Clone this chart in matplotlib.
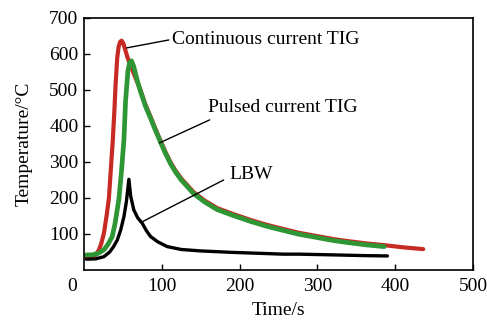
import matplotlib
matplotlib.use("Agg")
import matplotlib.pyplot as plt

plt.rcParams['font.family'] = ['Liberation Serif', 'DejaVu Serif']

# Continuous current TIG
t_c = [3, 10, 15, 19, 22, 25.6, 29, 32, 34.5, 37, 39, 40.6, 42.7, 44.5, 46.5, 48.3, 50.5, 53, 56, 60, 65,
       72.6, 79, 85.5, 92, 98, 104, 111, 118, 125, 141, 155, 171, 191, 214, 234, 256, 277, 300, 320, 340, 362,
       386, 410, 436]
T_c = [37, 37, 42, 55, 72, 102, 150, 199, 280, 360, 440, 515, 589, 620, 634, 637, 630, 612, 590, 568, 540,
       500, 459, 426, 391, 361, 331, 300, 275, 254, 216, 193, 172, 156, 139, 126, 114, 103, 94, 86, 80, 74,
       69, 63, 58]

# Pulsed current TIG
t_p = [3, 10, 18, 25.6, 31, 36.3, 40, 45, 48, 51.3, 53.4, 56.4, 58.5, 61, 64, 68, 72.6, 79, 85.5, 92, 98,
       104, 111, 118, 125, 141, 155, 171, 191, 214, 234, 256, 277, 300, 320, 340, 362, 386]
T_p = [42, 42, 46, 56, 72, 93, 130, 199, 270, 361, 468, 552, 575, 581, 565, 530, 496, 455, 422, 387, 357,
       327, 296, 271, 250, 212, 189, 168, 152, 135, 122, 110, 99, 90, 82, 76, 70, 65]

# LBW
t_l = [3, 15, 25.6, 33, 38, 42.7, 47, 51.3, 54.5, 57.7, 60, 64, 69, 74.8, 80, 85.5, 95, 107, 125, 150,
       190, 230, 256, 277, 320, 360, 390]
T_l = [30, 31, 37, 50, 65, 83, 110, 148, 190, 252, 205, 167, 145, 130, 110, 93, 78, 65, 57, 53,
       49, 46, 44, 44, 42, 40, 39]

xticks = [100, 200, 300, 400, 500]
yticks = [100, 200, 300, 400, 500, 600, 700]

fig = plt.figure(figsize=(4.87, 3.22), dpi=100)
ax = fig.add_axes([84/487, 1-270/322, (473-84)/487, (270-18)/322])

ax.plot(t_c, T_c, color='#c62a22', lw=3.0, solid_capstyle='round', solid_joinstyle='round')
ax.plot(t_p, T_p, color='#2f9636', lw=3.4, solid_capstyle='round', solid_joinstyle='round')
ax.plot(t_l, T_l, color='black', lw=2.4, solid_capstyle='round', solid_joinstyle='round')

ax.set_xlim(0, 500)
ax.set_ylim(0, 700)
ax.set_xticks(xticks)
ax.set_yticks(yticks)
ax.tick_params(direction='in', length=4, width=1.0, labelsize=14, pad=4)
ax.tick_params(axis='x', pad=6)
for s in ax.spines.values():
    s.set_linewidth(1.2)

ax.annotate('0', xy=(0, 0), xycoords='data', xytext=(-8.5, -6), textcoords='offset points',
            ha='center', va='top', fontsize=14)

ax.set_xlabel('Time/s', fontsize=14, labelpad=5)
ax.set_ylabel('Temperature/°C', fontsize=14, labelpad=12)

arrow = dict(arrowstyle='-', color='black', lw=1.0, shrinkA=0, shrinkB=0)
ax.annotate('Continuous current TIG', xy=(113, 639), ha='left', va='center', fontsize=14)
ax.annotate('', xy=(55, 617), xytext=(109, 639), arrowprops=arrow)
ax.annotate('Pulsed current TIG', xy=(159, 450), ha='left', va='center', fontsize=14)
ax.annotate('', xy=(97, 353), xytext=(161.5, 417), arrowprops=arrow)
ax.annotate('LBW', xy=(187, 264), ha='left', va='center', fontsize=14)
ax.annotate('', xy=(74, 133), xytext=(179.5, 250), arrowprops=arrow)

fig.savefig('out.png', dpi=100)
